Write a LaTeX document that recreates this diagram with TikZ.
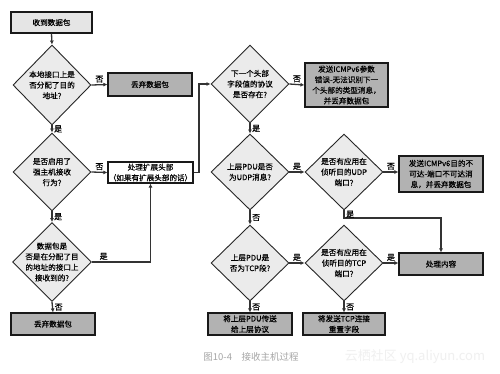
\documentclass[tikz,border=0pt]{standalone}
\usepackage{fontspec}
\setmainfont{Noto Sans CJK SC}
\newfontfamily\dfont[FakeBold=0.35]{Noto Sans CJK SC}
\usetikzlibrary{shapes.geometric,arrows.meta}
\begin{document}
\begin{tikzpicture}[x=1pt,y=-1pt,
  font=\dfont\fontsize{7.6}{10.6}\selectfont,
  dia/.style={shape=diamond, draw=black!85, line width=0.9pt, fill=black!8, inner sep=0pt, minimum width=78pt, minimum height=78pt},
  dtext/.style={align=center, inner sep=0pt},
  boxd/.style={draw=black!90, line width=1.1pt, fill=black!30, align=center, inner sep=0pt},
  boxl/.style={draw=black!90, line width=1.1pt, fill=black!10, align=center, inner sep=0pt},
  boxw/.style={draw=black!90, line width=1.1pt, fill=white, align=center, inner sep=0pt},
  con/.style={draw=black!80, line width=1.3pt, -{Latex[length=4pt,width=4pt]}},
  lab/.style={font=\dfont\fontsize{8}{9}\selectfont, inner sep=1.5pt}
]
\useasboundingbox[fill=white] (0,0) rectangle (500,373);

% left column
\node[boxl, minimum width=81pt, minimum height=21pt] (b0) at (51.5,22.5) {收到数据包};
\node[dia, minimum height=80pt] (d1) at (52,85) {};
\node[dtext] (d1t) at (d1) {本地接口上是\\否分配了目的\\地址?};
\node[boxd, minimum width=84pt, minimum height=23pt] (b1) at (150,84.5) {丢弃数据包};
\node[dia] (d2) at (52,172) {};
\node[dtext] (d2t) at (d2) {是否启用了\\强主机接收\\行为?};
\node[boxw, minimum width=85pt, minimum height=21pt] (b2) at (150.5,172.5) {处理扩展头部\\（如果有扩展头部的话）};
\node[dia, minimum height=79pt, minimum width=79pt] (d3) at (52,262) {};
\node[dtext] (d3t) at (d3) {数据包是\\否是在分配了目\\的地址的接口上\\接收到的?};
\node[boxd, minimum width=84pt, minimum height=22pt] (b3) at (53,324) {丢弃数据包};

% right part
\node[dia] (d4) at (250,84) {};
\node[dtext] (d4t) at (d4) {下一个头部\\字段值的协议\\是否存在?};
\node[boxd, minimum width=83pt, minimum height=44pt] (b4) at (346.5,85) {发送ICMPv6参数\\错误-无法识别下一\\个头部的类型消息，\\并丢弃数据包};
\node[dia, minimum height=76pt] (d5) at (250,172) {};
\node[dtext] (d5t) at (d5) {上层PDU是否\\为UDP消息?};
\node[dia, minimum height=76pt] (d6) at (344,172) {};
\node[dtext] (d6t) at (d6) {是否有应用在\\侦听目的UDP\\端口?};
\node[boxd, minimum width=84pt, minimum height=36pt] (b5) at (441,174) {发送ICMPv6目的不\\可达-端口不可达消\\息，并丢弃数据包};
\node[dia, minimum height=76pt] (d7) at (250,263) {};
\node[dtext] (d7t) at (d7) {上层PDU是\\否为TCP段?};
\node[dia, minimum height=76pt] (d8) at (344,263) {};
\node[dtext] (d8t) at (d8) {是否有应用在\\侦听目的TCP\\端口?};
\node[boxd, minimum width=84pt, minimum height=22pt] (b6) at (441,264) {处理内容};
\node[boxd, minimum width=84pt, minimum height=22pt] (b7) at (250,324) {将上层PDU传送\\给上层协议};
\node[boxd, minimum width=82pt, minimum height=22pt] (b8) at (344,324) {将发送TCP连接\\重置字段};

% connectors
\draw[con] (b0.south) -- (d1.north);
\draw[con] (d1.east) -- node[lab, above] (l1) {否} (b1.west);
\draw[con] (d1.south) -- node[lab, right] (l2) {是} (d2.north);
\draw[con] (d2.east) -- node[lab, above] (l3) {否} (b2.west);
\draw[con] (d2.south) -- node[lab, right] (l4) {是} (d3.north);
\draw[con] (d3.east) -| node[lab, above, pos=0.1] (l5) {是} (b2.south);
\draw[con] (d3.south) -- node[lab, right] (l6) {否} (b3.north);
\coordinate (c1) at (199,172.5);
\draw[con] (b2.east) -- (c1) |- (d4.west);
\draw[con] (d4.east) -- node[lab, above] (l7) {否} (b4.west);
\draw[con] (d4.south) -- node[lab, right] (l8) {是} (d5.north);
\draw[con] (d5.east) -- node[lab, above] (l9) {是} (d6.west);
\draw[con] (d6.east) -- node[lab, above] (l10) {否} (d6.east -| b5.west);
\coordinate (c2) at (344,218);
\draw[con] (d6.south) -- node[lab, right] (l11) {是} (c2) -| (b6.north);
\draw[con] (d5.south) -- node[lab, right] (l12) {否} (d7.north);
\draw[con] (d7.east) -- node[lab, above] (l13) {是} (d8.west);
\draw[con] (d8.east) -- node[lab, above] (l14) {是} (d8.east -| b6.west);
\draw[con] (d7.south) -- node[lab, right] (l15) {否} (b7.north);
\draw[con] (d8.south) -- node[lab, right] (l16) {否} (b8.north);

% caption and watermark
\node[text=black!35, font=\fontsize{9.5}{11}\selectfont, inner sep=0pt] (cap) at (251,357) {图10-4\quad 接收主机过程};
\node[text=black!6, font=\fontsize{13}{14}\selectfont, inner sep=0pt] (wm) at (415,357) {云栖社区 yq.aliyun.com};
\end{tikzpicture}
\end{document}
